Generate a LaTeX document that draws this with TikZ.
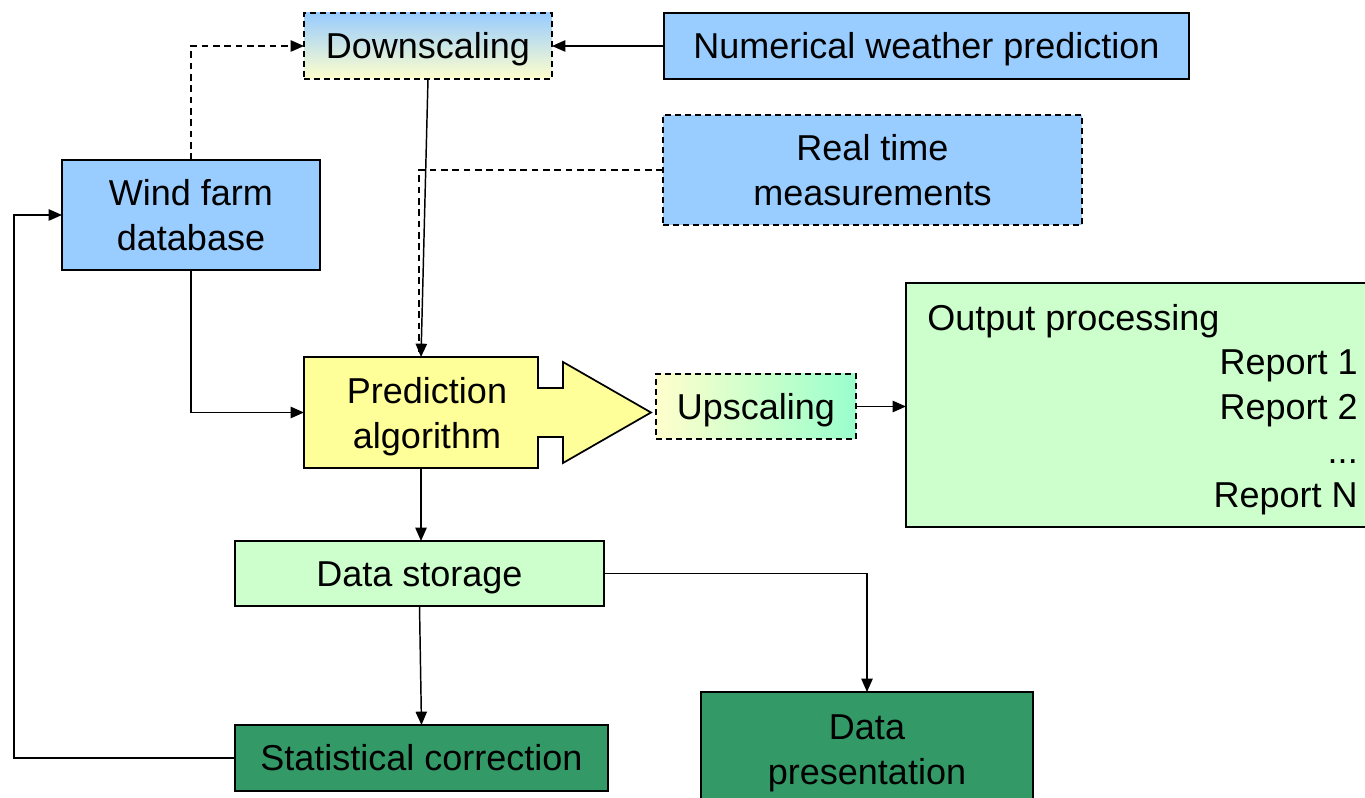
\documentclass[tikz,border=0pt]{standalone}
\usepackage{fontspec}
\setmainfont{Liberation Sans}
\usetikzlibrary{arrows.meta,shadings}
\definecolor{nblue}{HTML}{99CCFF}
\definecolor{nyellow}{HTML}{FFFF99}
\definecolor{lyellow}{HTML}{FFFFCC}
\definecolor{lgreen}{HTML}{CCFFCC}
\definecolor{dgreen}{HTML}{339966}
\definecolor{aqua}{HTML}{99FFCC}
\tikzset{
  box/.style={draw=black, line width=1.3pt, inner sep=0pt, outer sep=0pt, align=center,
    font=\fontsize{27pt}{33.5pt}\selectfont},
  oneline/.style={text height=19.4pt, text depth=0pt},
  dashbox/.style={dash pattern=on 4.5pt off 3pt},
  conn/.style={line width=1.1pt, -{Triangle[length=10pt,width=8.5pt]}},
  plain/.style={line width=1.1pt},
  dline/.style={dash pattern=on 5pt off 3.5pt},
  txt/.style={inner sep=0pt, font=\fontsize{27pt}{33.5pt}\selectfont}
}
\begin{document}
\begin{tikzpicture}[x=0.75pt,y=-0.75pt]
\clip (0,0) rectangle (1365,798);
\fill[white] (0,0) rectangle (1365,798);

% boxes
\node[box, oneline, dashbox, top color=nblue, bottom color=lyellow, minimum width=186pt, minimum height=49.5pt] (ds) at (428,46) {Downscaling};
\node[box, oneline, fill=nblue, minimum width=393.75pt, minimum height=49.5pt] (nwp) at (926.5,46) {Numerical weather prediction};
\node[box, dashbox, fill=nblue, minimum width=314.25pt, minimum height=82.5pt] (rtm) at (872.5,170) {Real time\\measurements};
\node[box, fill=nblue, minimum width=193.5pt, minimum height=82.5pt] (wfd) at (191,215) {Wind farm\\database};

% prediction algorithm (block arrow)
\fill[nyellow, draw=black, line width=1.3pt, line join=miter]
  (304,357) -- (538,357) -- (538,388) -- (563,388) -- (563,362) -- (651,412.5)
  -- (563,463) -- (563,437) -- (538,437) -- (538,468) -- (304,468) -- cycle;
\node[box, draw=none, minimum width=175.5pt, minimum height=83.25pt] (pred) at (421,412.5) {};
\node[txt, align=center] (predt) at (427,416.5) {Prediction\\algorithm};

\node[box, oneline, dashbox, left color=lyellow, right color=aqua, minimum width=150pt, minimum height=48.75pt] (up) at (756,406.5) {Upscaling};

\node[box, fill=lgreen, minimum width=355.5pt, minimum height=183pt] (out) at (1143,405) {};
\node[txt, anchor=base west] (outt) at (927,331) {Output processing};
\node[txt, anchor=base east] (r1) at (1358,375) {Report 1};
\node[txt, anchor=base east] (r2) at (1358,420) {Report 2};
\node[txt, anchor=base east] (r3) at (1358,464) {...};
\node[txt, anchor=base east] (r4) at (1358,508) {Report N};

\node[box, oneline, fill=lgreen, minimum width=276.75pt, minimum height=48.75pt] (dst) at (419.5,573.5) {Data storage};
\node[box, oneline, fill=dgreen, minimum width=279.75pt, minimum height=49.5pt] (stc) at (421.5,758) {Statistical correction};
\node[box, fill=dgreen, minimum width=249pt, minimum height=92.25pt] (dp) at (867,753.5) {Data\\presentation};

% connectors
\draw[conn] (nwp.west) -- (ds.east);
\draw[conn, dline] (wfd.north) |- (ds.west);
\draw[plain, dline] (rtm.west) -| ([xshift=-1.5pt]pred.north);
\draw[conn] (ds.south) -- (pred.north);
\draw[conn] (wfd.south) |- (pred.west);
\draw[conn] (pred.south) -- (pred.south |- dst.north);
\draw[conn] (up.east) -- (up.east -| out.west);
\draw[conn] (dst.south) -- (stc.north);
\coordinate (lc) at (14,758);
\draw[conn] (stc.west) -- (lc) |- (wfd.west);
\draw[conn] (dst.east) -| (dp.north);
\end{tikzpicture}
\end{document}
